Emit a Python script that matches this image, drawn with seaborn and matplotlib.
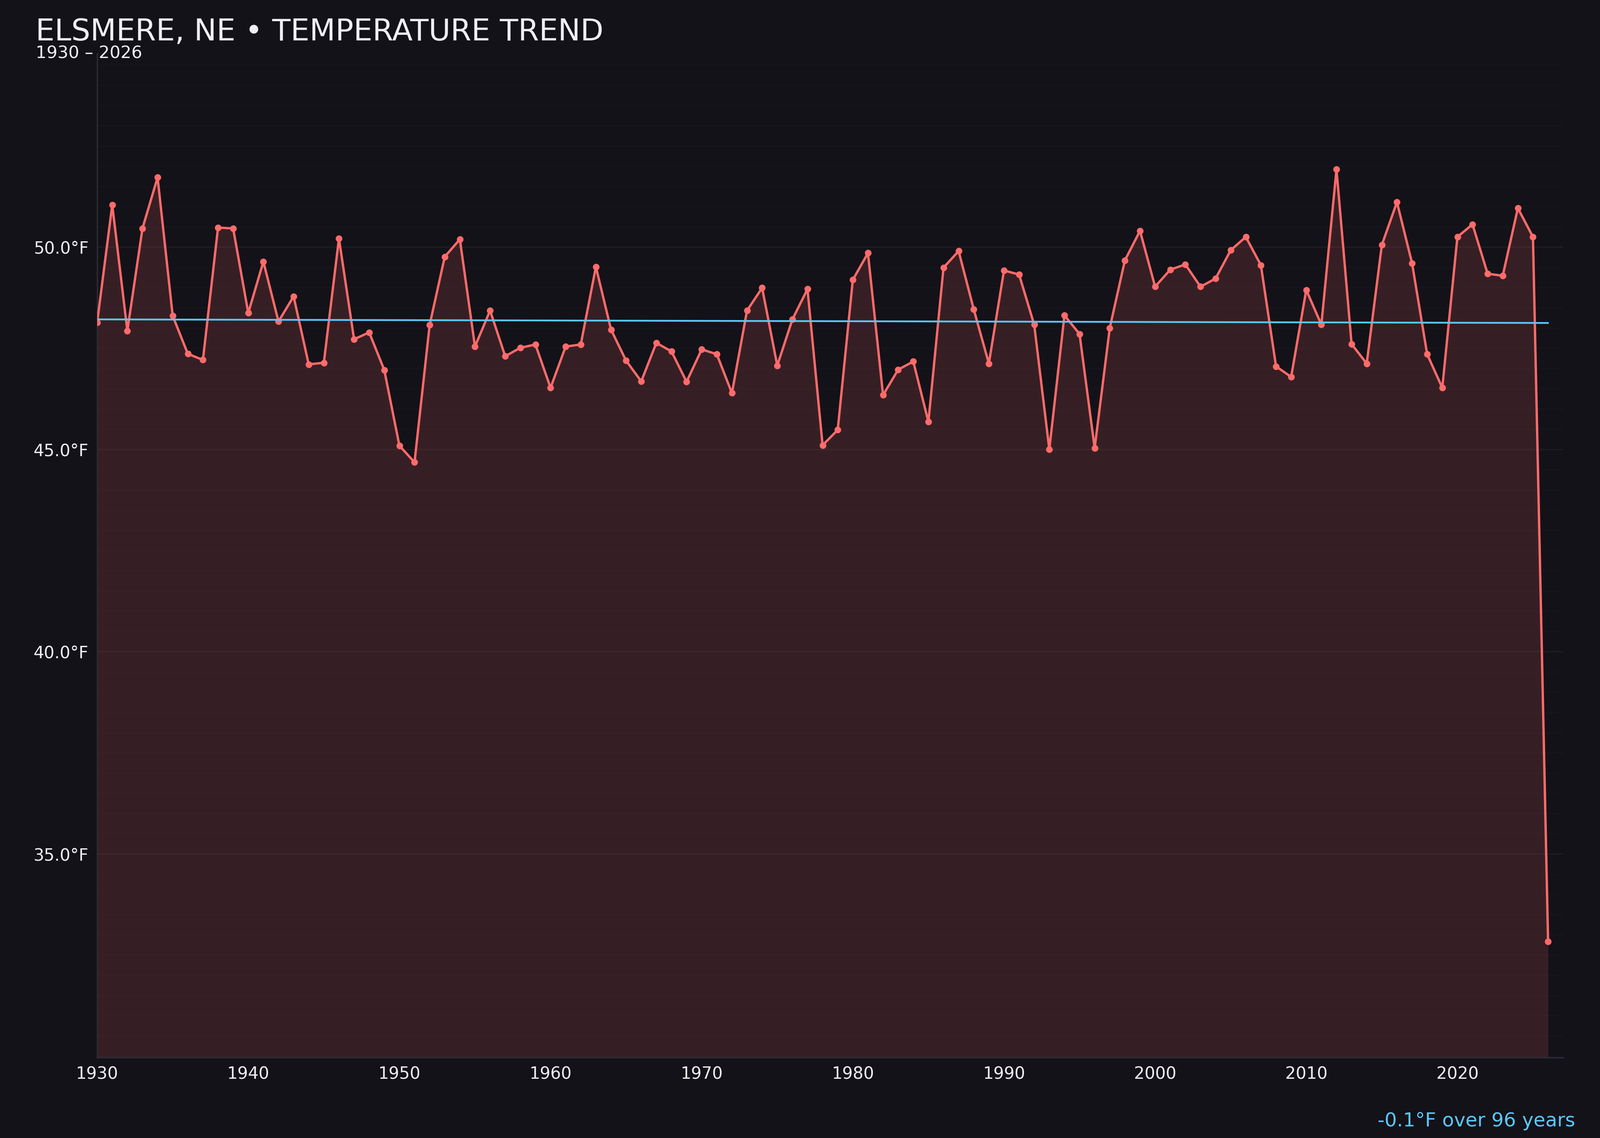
import numpy as np
import pandas as pd
import matplotlib.pyplot as plt
from matplotlib.ticker import MultipleLocator, FuncFormatter
import seaborn as sns

# annual mean temperature
years = list(range(1930, 2027))
temps = [
    48.13, 51.04, 47.93, 50.46, 51.72, 48.30, 47.36, 47.21, 50.48, 50.46,
    48.37, 49.64, 48.16, 48.78, 47.10, 47.14, 50.21, 47.72, 47.89, 46.96,
    45.09, 44.68, 48.07, 49.76, 50.19, 47.54, 48.43, 47.30, 47.51, 47.59,
    46.52, 47.54, 47.59, 49.51, 47.96, 47.19, 46.68, 47.63, 47.42, 46.67,
    47.47, 47.35, 46.39, 48.43, 48.99, 47.07, 48.21, 48.96, 45.10, 45.48,
    49.19, 49.85, 46.34, 46.97, 47.17, 45.68, 49.49, 49.90, 48.46, 47.12,
    49.42, 49.32, 48.08, 45.00, 48.31, 47.85, 45.03, 48.00, 49.67, 50.40,
    49.02, 49.44, 49.57, 49.02, 49.22, 49.92, 50.25, 49.55, 47.05, 46.79,
    48.94, 48.08, 51.92, 47.60, 47.12, 50.05, 51.11, 49.60, 47.35, 46.52,
    50.25, 50.56, 49.34, 49.29, 50.96, 50.25, 32.83,
]
x_ticks = list(range(1930, 2021, 10))
y_ticks = [35, 40, 45, 50]

title = "ELSMERE, NE • TEMPERATURE TREND"
subtitle = "1930 – 2026"
trend_note = "-0.1°F over 96 years"

bg = "#131218"
red = "#ff6b6b"
blue = "#5ac8fa"
text_c = "#eeeef3"
spine_c = "#2c2c35"

df = pd.DataFrame({"year": years, "temp": temps})

sns.set_theme(style="dark", rc={
    "axes.facecolor": bg,
    "figure.facecolor": bg,
    "axes.edgecolor": spine_c,
    "text.color": text_c,
    "xtick.color": spine_c,
    "ytick.color": spine_c,
    "xtick.labelcolor": text_c,
    "ytick.labelcolor": text_c,
})
plt.rcParams["font.family"] = ["DejaVu Sans"]

fig = plt.figure(figsize=(20, 14.22), dpi=200)
ax = fig.add_axes([0.0607, 0.0707, 0.9163, 0.8823])

span = df.temp.max() - df.temp.min()
y_lo = df.temp.min() - 0.15 * span
y_hi = df.temp.max() + 0.15 * span

ax.fill_between(df.year, df.temp, y_lo, color=red, alpha=0.15, linewidth=0, zorder=1)
sns.lineplot(data=df, x="year", y="temp", ax=ax, color=red, linewidth=2.1,
             marker="o", markersize=6, markeredgewidth=0, zorder=3)
sns.regplot(data=df, x="year", y="temp", ax=ax, scatter=False, ci=None,
            line_kws={"color": blue, "linewidth": 1.6, "zorder": 4})

ax.set_xlim(1930, 2027)
ax.set_ylim(y_lo, y_hi)
ax.set_xticks(x_ticks)
ax.set_yticks(y_ticks)
ax.yaxis.set_major_formatter(FuncFormatter(lambda v, p: f"{v:.1f}°F"))
ax.yaxis.set_minor_locator(MultipleLocator(0.5))
ax.tick_params(axis="both", which="major", labelsize=15, length=4, width=1.2)
ax.tick_params(axis="y", which="minor", length=0)
ax.set_xlabel("")
ax.set_ylabel("")

ax.grid(axis="y", which="major", color="white", alpha=0.05, linewidth=1.0)
ax.grid(axis="y", which="minor", color="white", alpha=0.02, linewidth=0.9)
ax.grid(axis="x", visible=False)

for side in ["top", "right"]:
    ax.spines[side].set_visible(False)
for side in ["left", "bottom"]:
    ax.spines[side].set_color(spine_c)
    ax.spines[side].set_linewidth(1.2)

fig.text(0.0223, 0.9645, title, fontsize=27, color=text_c, ha="left", va="baseline")
fig.text(0.0223, 0.949, subtitle, fontsize=15.4, color=text_c, ha="left", va="baseline")
fig.text(0.9845, 0.0102, trend_note, fontsize=17.4, color=blue, ha="right", va="baseline")

fig.savefig("out.png", dpi=200, facecolor=bg)
